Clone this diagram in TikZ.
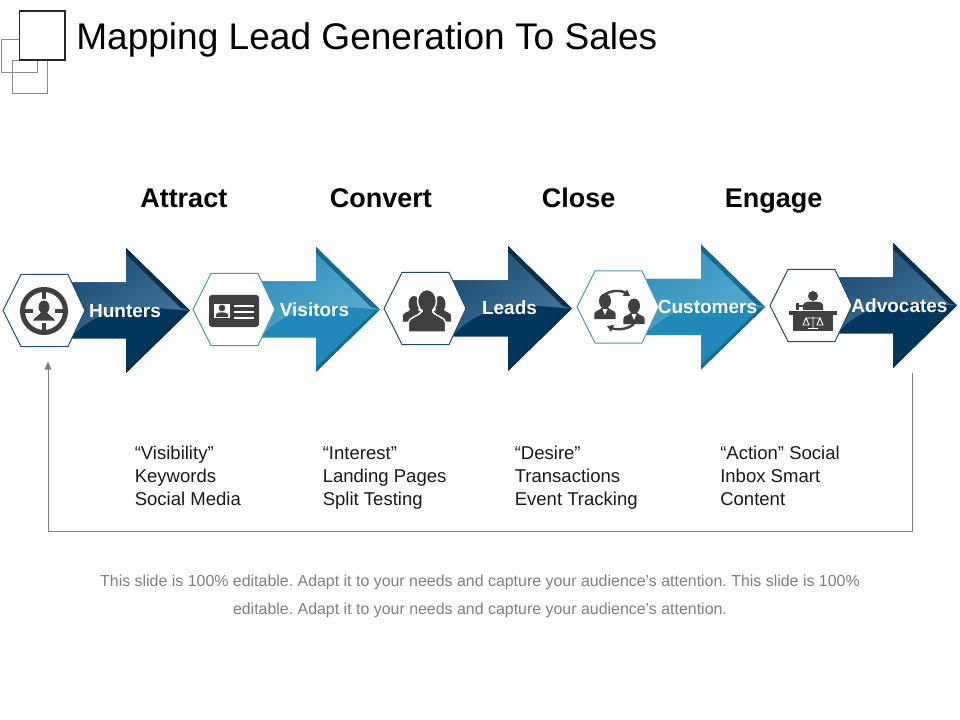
\documentclass[tikz,border=0pt]{standalone}
\usepackage{fontspec}
\setmainfont{Liberation Sans}
\usetikzlibrary{arrows.meta}
\definecolor{darkLow}{HTML}{03365C}
\definecolor{darkHiA}{HTML}{1B4A70}
\definecolor{darkHiB}{HTML}{46769A}
\definecolor{darkEdge}{HTML}{06304F}
\definecolor{darkHex}{HTML}{1F4A66}
\definecolor{lightLow}{HTML}{2189B9}
\definecolor{lightHiA}{HTML}{2F8FBC}
\definecolor{lightHiB}{HTML}{5CACCD}
\definecolor{lightEdge}{HTML}{1A6A8F}
\definecolor{lightHex}{HTML}{4A97B5}
\definecolor{icon}{HTML}{404040}
\definecolor{linegray}{HTML}{7F7F7F}
\tikzset{
  x=0.75pt,y=-0.75pt,
  heading/.style={anchor=base west,inner sep=0pt,font=\fontsize{20.25}{24}\selectfont\bfseries,text=black},
  arrowlabel/.style={anchor=base,inner sep=0pt,font=\fontsize{14.25}{17}\selectfont\bfseries,text=white},
  listtext/.style={anchor=west,inner sep=0pt,align=left,font=\fontsize{13.9}{16.9}\selectfont,text=black!90},
  footer/.style={inner sep=0pt,align=center,font=\fontsize{11.95}{21}\selectfont\frenchspacing,text=linegray},
  title/.style={anchor=base west,inner sep=0pt,font=\fontsize{27.8}{32}\selectfont,text=black},
  iconfill/.style={fill=icon,draw=none},
  feedback/.style={draw=linegray,line width=0.75pt,-{Triangle[length=6pt,width=5pt]}},
  cycarrow/.style={draw=icon,line width=1.8pt,-{Triangle[length=4.5pt,width=5.5pt]}},
}
\newcommand{\flowarrow}[8]{%
  \begin{scope}[shift={(#2,#3)}]
    \path[fill=#5Low] (-60,-28) -- (0,-28) -- (0,-62.5) -- (64,0) -- (0,62.5) -- (0,28) -- (-60,28) -- cycle;
    \begin{scope}
      \clip (-60,-28) -- (0,-28) -- (0,-62.5) -- (64,0) -- (0,62.5) -- (0,28) -- (-60,28) -- cycle;
      \shade[top color=#5HiA,bottom color=#5HiB,shading angle=35]
        (-58,30) .. controls (-42,12) and (-22,-3) .. (24,-3) -- (64,0) -- (64,-70) -- (-58,-70) -- cycle;
    \end{scope}
    \path[fill=#5Edge] (0,-62.5) -- (64,0) -- (55,-2.5) -- (0,-56.5) -- cycle;
    \path[fill=#5Edge] (0,62.5) -- (64,0) -- (58,2) -- (0,58) -- cycle;
  \end{scope}
  \begin{scope}[shift={(#4,#3)}]
    \path[fill=white,draw=#5Hex,line width=0.75pt]
      (0,0) -- (18,-36) -- (65,-36) -- (82,0) -- (65,36) -- (18,36) -- cycle;
  \end{scope}
  \node[arrowlabel] (label#1) at (#7,#8) {#6};
}
\newcommand{\bust}[3]{%
  \begin{scope}[shift={(#1,#2)},scale=#3]
    \path[iconfill] (0,0) ellipse [x radius=6,y radius=7.5];
    \path[iconfill] (-14,22) -- (-14,14.5) .. controls (-14,11) and (-6,10) .. (-3.5,6) -- (3.5,6)
      .. controls (6,10) and (14,11) .. (14,14.5) -- (14,22) -- cycle;
  \end{scope}%
}
\begin{document}
\begin{tikzpicture}
\path[use as bounding box] (0,0) rectangle (960,720);
\path[fill=white] (0,0) rectangle (960,720);

% corner squares
\draw[draw=gray!90,line width=0.75pt] (1,39.5) rectangle (37,73);
\draw[draw=gray!90,line width=0.75pt] (12,60.5) rectangle (47.5,94);
\draw[draw=black!85,fill=white,line width=1.3pt] (19.5,11) rectangle (65,60);
\node[title] (title) at (76,50) {Mapping Lead Generation To Sales};

% headings
\node[heading] (attract) at (140,208) {Attract};
\node[heading] (convert) at (329.5,208) {Convert};
\node[heading] (close) at (541.5,208) {Close};
\node[heading] (engage) at (724.5,208) {Engage};

% arrows
\flowarrow{1}{126}{310.5}{3}{dark}{Hunters}{125}{317}
\flowarrow{2}{316}{309.5}{193}{light}{Visitors}{314.5}{316}
\flowarrow{3}{508}{308.5}{384}{dark}{Leads}{509.5}{315}
\flowarrow{4}{701}{307}{577}{light}{Customers}{707.5}{314}
\flowarrow{5}{893}{305.5}{770}{dark}{Advocates}{899.5}{312}

% icon 1: target
\draw[draw=icon,line width=3.8pt] (44,311) circle [radius=21.5];
\foreach \a/\b/\c/\d in {24/311/33/311,55/311/64/311,44/291/44/299.5,44/322.5/44/331}
  \draw[draw=icon,line width=3.6pt] (\a,\b) -- (\c,\d);
\path[iconfill] (44,307) ellipse [x radius=5.5,y radius=6.5];
\path[iconfill] (33,320.5) .. controls (35,316) and (40,316) .. (41.5,311) -- (46.5,311)
  .. controls (48,316) and (53,316) .. (55,320.5) -- cycle;

% icon 2: card
\path[iconfill,rounded corners=2.2pt] (209,295) rectangle (259,327);
\path[fill=white] (214,304) rectangle (230,318);
\path[iconfill] (222,308) circle [radius=3.3];
\path[iconfill] (216,317) -- (216,314.5) .. controls (217,311.5) and (227,311.5) .. (228,314.5) -- (228,317) -- cycle;
\foreach \yy in {306,312,318}
  \path[fill=white] (234,\yy-1.3) rectangle (254,\yy+1.3);

% icon 3: group
\bust{414}{304}{0.8}
\bust{440}{304}{0.8}
\path[iconfill] (414,304) ellipse [x radius=5.5,y radius=8];
\path[iconfill] (440,304) ellipse [x radius=5.5,y radius=8];
\path[fill=icon,draw=white,line width=1.1pt] (408.5,332) -- (408.5,322.5) .. controls (408.5,317) and (419,316.5) .. (422,311)
  -- (432,311) .. controls (435,316.5) and (445.5,317) .. (445.5,322.5) -- (445.5,332) -- cycle;
\path[fill=icon,draw=white,line width=1.1pt] (427,301) ellipse [x radius=9.5,y radius=11.5];
\path[iconfill] (422.5,309) rectangle (431.5,316);

% icon 4: exchange
\bust{605}{302.5}{0.76}
\bust{634}{307.5}{0.76}
\path[iconfill] (605,301) ellipse [x radius=6,y radius=7.5];
\path[iconfill] (634,306) ellipse [x radius=6,y radius=7.5];
\path[fill=white] (602.5,309) -- (607.5,309) -- (605,315) -- cycle;
\path[fill=white] (631.5,314) -- (636.5,314) -- (634,320) -- cycle;
\draw[cycarrow] (604,295) .. controls (611,290) and (621,290) .. (630,296);
\draw[cycarrow] (634,324) .. controls (627,330) and (616,330) .. (607,326);

% icon 5: judge at desk
\path[iconfill] (813,296) circle [radius=5];
\path[iconfill] (803,310) -- (803,305) .. controls (804,301.5) and (809,301.5) .. (813,301.5)
  .. controls (817,301.5) and (822,301.5) .. (823,305) -- (823,310) -- cycle;
\path[iconfill] (796,303) rectangle (798.5,310);
\path[iconfill] (798,305.5) rectangle (803,307.5);
\path[iconfill] (789,311) rectangle (837,315);
\path[iconfill] (793,315) rectangle (833,331);
\draw[draw=white,line width=0.7pt] (813,316.5) -- (813,328.5) (808,328.5) -- (818,328.5)
  (806,318) -- (820,318)
  (806,318) -- (803,325) -- (809,325) -- cycle
  (820,318) -- (817,325) -- (823,325) -- cycle;

% text lists
\node[listtext] (list1) at (134.5,478) {\strut “Visibility”\\Keywords\\\strut Social Media};
\node[listtext] (list2) at (322.5,478) {\strut “Interest”\\Landing Pages\\\strut Split Testing};
\node[listtext] (list3) at (514.5,478) {\strut “Desire”\\Transactions\\\strut Event Tracking};
\node[listtext] (list4) at (720,478) {\strut “Action” Social\\Inbox Smart\\\strut Content};

% feedback connector
\coordinate (fbstart) at (912.5,373);
\coordinate (fbend) at (48,361.5);
\draw[feedback] (fbstart) -- (912.5,531) -- (48,531) -- (fbend);

% footer
\node[footer] (note) at (480,596) {This slide is 100\% editable. Adapt it to your needs and capture your audience’s attention. This slide is 100\%\\editable. Adapt it to your needs and capture your audience’s attention.};
\end{tikzpicture}
\end{document}
